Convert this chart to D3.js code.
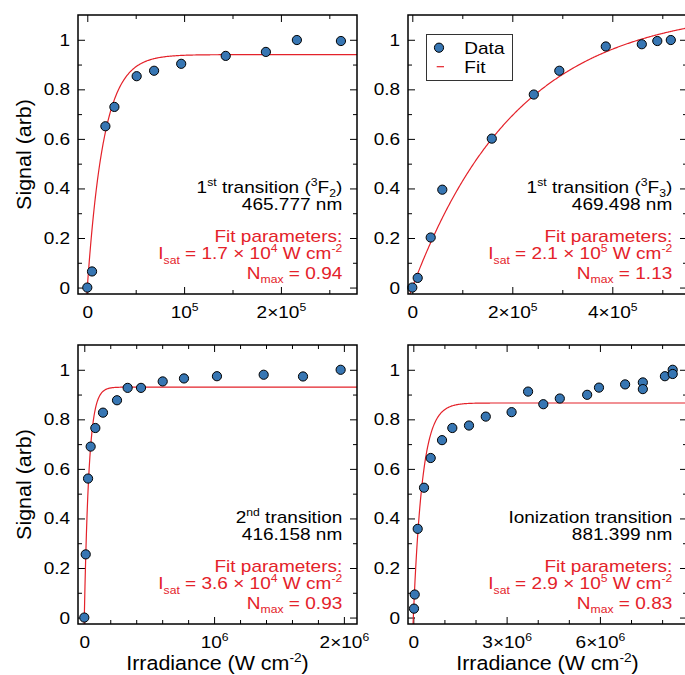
<!DOCTYPE html>
<html>
<head>
<meta charset="utf-8">
<script src="https://cdn.jsdelivr.net/npm/d3@7"></script>
<style>
  body { margin: 0; background: #fff; }
  svg { display: block; overflow: hidden; }
  text { font-family: "Liberation Sans", Arial, sans-serif; }
</style>
</head>
<body>
<script>
// ---- data ----
const irr1 = [0, 4.9e3, 1.87e4, 2.8e4, 5.1e4, 6.9e4, 9.7e4, 1.43e5, 1.845e5, 2.165e5, 2.62e5];
const sig1 = [0, 0.065, 0.651, 0.729, 0.853, 0.875, 0.903, 0.935, 0.951, 0.999, 0.995];

const irr2 = [0, 1.08e4, 3.68e4, 6.0e4, 1.59e5, 2.43e5, 2.94e5, 3.87e5, 4.59e5, 4.9e5, 5.17e5];
const sig2 = [0, 0.039, 0.202, 0.395, 0.601, 0.779, 0.875, 0.973, 0.982, 0.995, 0.999];

const irr3 = [0, 1.1e4, 2.9e4, 4.9e4, 8.5e4, 1.44e5, 2.52e5, 3.34e5, 4.37e5, 6.04e5, 7.68e5, 1.022e6, 1.382e6, 1.685e6, 1.975e6];
const sig3 = [0, 0.255, 0.561, 0.69, 0.765, 0.827, 0.877, 0.927, 0.927, 0.953, 0.965, 0.974, 0.98, 0.973, 1.0];

const irr4 = [2.2e4, 4.5e4, 1.41e5, 3.44e5, 5.59e5, 9.23e5, 1.254e6, 1.79e6, 2.33e6, 3.16e6, 3.69e6,
              4.18e6, 4.71e6, 5.59e6, 5.97e6, 6.81e6, 7.38e6, 7.38e6, 8.09e6, 8.34e6, 8.34e6];
const sig4 = [0.036, 0.093, 0.358, 0.524, 0.644, 0.716, 0.765, 0.775, 0.811, 0.829, 0.912,
              0.861, 0.884, 0.899, 0.928, 0.941, 0.949, 0.922, 0.974, 1.0, 0.983];

// fit curves as drawn: N = Nmax * (1 - exp(-I / Isat))
const fitIsat = [1.7e4, 2.1e5, 3.6e4, 2.9e5];
const fitNmax = [0.94, 1.13, 0.93, 0.866];

// axes
const xDomains = [[-9.6e3, 2.786e5], [-8.6e3, 5.494e5], [-4.85e4, 2.101e6], [-1.71e5, 8.8e6]];
const yDomain = [-0.026, 1.1];
const xMajor = [[0, 1e5, 2e5], [0, 2e5, 4e5], [0, 1e6, 2e6], [0, 3e6, 6e6]];
const xMinor = [[5e4, 1.5e5, 2.5e5], [1e5, 3e5, 5e5],
                [2e5, 4e5, 6e5, 8e5, 1.2e6, 1.4e6, 1.6e6, 1.8e6],
                [1e6, 2e6, 4e6, 5e6, 7e6, 8e6]];
const xTickLabels = [["0", "10^{5}", "2×10^{5}"], ["0", "2×10^{5}", "4×10^{5}"],
                     ["0", "10^{6}", "2×10^{6}"], ["0", "3×10^{6}", "6×10^{6}"]];
const yMajor = [0, 0.2, 0.4, 0.6, 0.8, 1];
const yMinor = [0.1, 0.3, 0.5, 0.7, 0.9];
const yTickLabels = ["0", "0.2", "0.4", "0.6", "0.8", "1"];

// annotations
const nameLines = [["1^{st} transition (^{3}F_{2})", "465.777 nm"],
                   ["1^{st} transition (^{3}F_{3})", "469.498 nm"],
                   ["2^{nd} transition", "416.158 nm"],
                   ["Ionization transition", "881.399 nm"]];
const fitLines = [["Fit parameters:", "I_{sat} = 1.7 × 10^{4} W cm^{-2}", "N_{max} = 0.94"],
                  ["Fit parameters:", "I_{sat} = 2.1 × 10^{5} W cm^{-2}", "N_{max} = 1.13"],
                  ["Fit parameters:", "I_{sat} = 3.6 × 10^{4} W cm^{-2}", "N_{max} = 0.93"],
                  ["Fit parameters:", "I_{sat} = 2.9 × 10^{5} W cm^{-2}", "N_{max} = 0.83"]];

const panels = [
  { irr: irr1, sig: sig1, left: 78,  top: 15 },
  { irr: irr2, sig: sig2, left: 408, top: 15 },
  { irr: irr3, sig: sig3, left: 78,  top: 345 },
  { irr: irr4, sig: sig4, left: 408, top: 345 }
];

const S = 279;
const RED = "#e4222a";
const BLUE = "#3776b3";
const FS = 17, SX = 1.12;

const svg = d3.select("body").append("svg").attr("width", 685).attr("height", 675);
const defs = svg.append("defs");

// tiny markup: ^{..} superscript, _{..} subscript
function rich(textSel, str, size) {
  textSel.text(null);
  const parts = [];
  const re = /([\^_])\{([^}]*)\}|([^\^_]+)/g;
  let m;
  while ((m = re.exec(str)) !== null) {
    if (m[3]) parts.push({ t: m[3], k: "n" });
    else parts.push({ t: m[2], k: m[1] === "^" ? "sup" : "sub" });
  }
  let cur = 0;
  parts.forEach(p => {
    const off = p.k === "sup" ? -0.42 * size : p.k === "sub" ? 0.26 * size : 0;
    const ts = textSel.append("tspan").text(p.t)
      .attr("font-size", p.k === "n" ? size : size * 0.64);
    if (off !== cur) ts.attr("dy", off - cur);
    cur = off;
  });
}

panels.forEach((p, i) => {
  const g = svg.append("g").attr("transform", `translate(${p.left},${p.top})`);
  const x = d3.scaleLinear().domain(xDomains[i]).range([0, S]);
  const y = d3.scaleLinear().domain(yDomain).range([S, 0]);

  defs.append("clipPath").attr("id", "clip" + i)
    .append("rect").attr("width", S).attr("height", S);

  const axisG = (axis, tf) => {
    const a = g.append("g").attr("transform", tf).call(axis);
    a.select(".domain").remove();
    a.selectAll("line").attr("stroke", "#000").attr("stroke-width", 1);
    a.attr("font-size", FS).attr("font-family", null);
    return a;
  };

  // major + minor ticks on all four sides, pointing inward
  const bx = axisG(d3.axisBottom(x).tickValues(xMajor[i]).tickSizeInner(-7).tickSizeOuter(0)
    .tickPadding(12).tickFormat(() => ""), `translate(0,${S})`);
  bx.selectAll("text").each(function (d, k) { rich(d3.select(this), xTickLabels[i][k], FS); })
    .attr("transform", `scale(${SX},1)`).attr("fill", "#000");
  axisG(d3.axisBottom(x).tickValues(xMinor[i]).tickSize(-4).tickFormat(""), `translate(0,${S})`)
    .selectAll("text").remove();
  axisG(d3.axisTop(x).tickValues(xMajor[i]).tickSize(-7).tickFormat(""), null).selectAll("text").remove();
  axisG(d3.axisTop(x).tickValues(xMinor[i]).tickSize(-4).tickFormat(""), null).selectAll("text").remove();

  const ly = axisG(d3.axisLeft(y).tickValues(yMajor).tickSizeInner(-7).tickSizeOuter(0)
    .tickPadding(7).tickFormat((d, k) => yTickLabels[k]), null);
  ly.selectAll("text").attr("transform", `scale(${SX},1)`).attr("fill", "#000");
  axisG(d3.axisLeft(y).tickValues(yMinor).tickSize(-4).tickFormat(""), null).selectAll("text").remove();
  axisG(d3.axisRight(y).tickValues(yMajor).tickSize(-7).tickFormat(""), `translate(${S},0)`).selectAll("text").remove();
  axisG(d3.axisRight(y).tickValues(yMinor).tickSize(-4).tickFormat(""), `translate(${S},0)`).selectAll("text").remove();

  // fit curve
  const xs = d3.range(0, 401).map(k => xDomains[i][0] + (xDomains[i][1] - xDomains[i][0]) * k / 400);
  const fit = xs.map(v => [v, fitNmax[i] * (1 - Math.exp(-v / fitIsat[i]))]);
  g.append("path").datum(fit)
    .attr("clip-path", `url(#clip${i})`)
    .attr("fill", "none").attr("stroke", RED).attr("stroke-width", 1.2)
    .attr("d", d3.line().x(d => x(d[0])).y(d => y(d[1])));

  // data points
  g.append("g").selectAll("circle").data(p.irr.map((v, k) => [v, p.sig[k]])).join("circle")
    .attr("cx", d => x(d[0])).attr("cy", d => y(d[1])).attr("r", 4.6)
    .attr("fill", BLUE).attr("stroke", "#000").attr("stroke-width", 1);

  // frame
  g.append("rect").attr("width", S).attr("height", S)
    .attr("fill", "none").attr("stroke", "#000").attr("stroke-width", 1.5);

  // annotations, right aligned
  const ax = S - 14.7;
  const base = [177.7, 195, 226.7, 244.3, 263.7];
  const lines = nameLines[i].map(s => [s, "#000"]).concat(fitLines[i].map(s => [s, RED]));
  lines.forEach((l, k) => {
    const t = g.append("text").attr("text-anchor", "end").attr("fill", l[1])
      .attr("font-size", FS)
      .attr("transform", `translate(${ax},${base[k]}) scale(${SX},1)`);
    rich(t, l[0], FS);
  });

  // legend (top-right panel)
  if (i === 1) {
    const lg = g.append("g");
    lg.append("rect").attr("x", 18.5).attr("y", 19.5).attr("width", 86).attr("height", 46)
      .attr("fill", "#fff").attr("stroke", "#333").attr("stroke-width", 1);
    lg.append("circle").attr("cx", 31).attr("cy", 32.7).attr("r", 4.6)
      .attr("fill", BLUE).attr("stroke", "#000").attr("stroke-width", 1);
    lg.append("line").attr("x1", 28.7).attr("x2", 36).attr("y1", 51.7).attr("y2", 51.7)
      .attr("stroke", RED).attr("stroke-width", 1.2);
    lg.append("text").attr("font-size", FS).attr("transform", `translate(56.3,38.5) scale(${SX},1)`).text("Data");
    lg.append("text").attr("font-size", FS).attr("transform", `translate(56.3,58) scale(${SX},1)`).text("Fit");
  }

  // axis titles
  if (i === 0 || i === 2) {
    svg.append("text").attr("text-anchor", "middle").attr("font-size", 19.5)
      .attr("transform", `translate(31,${p.top + S / 2}) rotate(-90) scale(1.1,1)`)
      .text("Signal (arb)");
  }
  if (i >= 2) {
    const t = svg.append("text").attr("text-anchor", "middle").attr("font-size", 19.5)
      .attr("transform", `translate(${p.left + S / 2},670) scale(1.1,1)`);
    rich(t, "Irradiance (W cm^{-2})", 19.5);
  }
});
</script>
</body>
</html>
